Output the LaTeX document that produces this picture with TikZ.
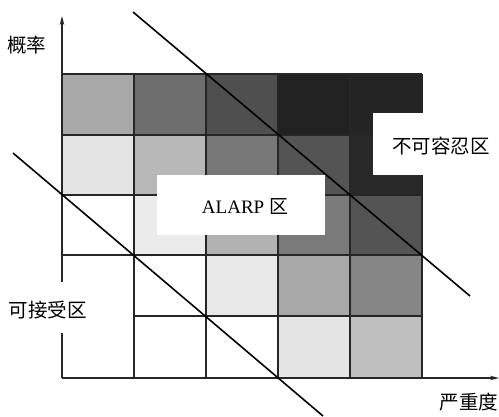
\documentclass[tikz,border=0pt]{standalone}
\usepackage{fontspec}
\setmainfont{Liberation Serif}
\newfontfamily\cjk{Noto Sans CJK SC}
\usetikzlibrary{arrows.meta}
\tikzset{
  gridline/.style={line width=1.3pt, black!85},
  diag/.style={line width=1.6pt, black},
  axis/.style={line width=1.2pt, black!85, -{Stealth[length=9pt,width=4.5pt]}},
  whitebox/.style={fill=white, draw=none, inner sep=0pt},
  lbl/.style={inner sep=0pt, font=\fontsize{19.5}{22}\selectfont\cjk}
}
\begin{document}
\begin{tikzpicture}[x=1pt,y=-1pt]
\useasboundingbox (0,0) rectangle (499,416);
% cell fills: rows top to bottom, columns left to right
\def\xs{{62,134,206,278,350,422}}
\def\ys{{74,135,195,255,316,378}}
\foreach \r/\shades in {0/{34,57,69,87,86},1/{10,28,53,67,84},2/{0,8,30,52,67},3/{0,0,9,34,48},4/{0,0,0,10,25}}{
  \foreach \s [count=\c from 0] in \shades {
    \pgfmathsetmacro{\xa}{\xs[\c]}
    \pgfmathsetmacro{\xb}{\xs[\c+1]}
    \pgfmathsetmacro{\ya}{\ys[\r]}
    \pgfmathsetmacro{\yb}{\ys[\r+1]}
    \fill[black!\s] (\xa,\ya) rectangle (\xb,\yb);
  }
}
% grid lines
\foreach \y in {74,135,195,255} \draw[gridline] (62,\y) -- (422,\y);
\draw[gridline] (134,316) -- (422,316);
\foreach \x in {134,206,278,350,422} \draw[gridline] (\x,74) -- (\x,378);
% axes
\coordinate (O) at (62,378);
\coordinate (ytip) at (62,16);
\coordinate (xtip) at (499,378);
\draw[axis] (O) -- (ytip);
\draw[axis] (O) -- (xtip);
% white label boxes
\node[whitebox, minimum width=168pt, minimum height=60pt] (alarpbox) at (241,205) {};
\node[whitebox, minimum width=126pt, minimum height=62pt] (intolbox) at (436,144) {};
\node[whitebox, minimum width=90pt, minimum height=51pt] (acceptbox) at (48,307.5) {};
\node[inner sep=0pt, font=\fontsize{19}{22}\selectfont] (alarp) at (245,207) {ALARP {\cjk 区}};
\node[lbl] (intol) at (441,146) {不可容忍区};
\node[lbl] (accept) at (48,310) {可接受区};
% axis labels
\node[lbl] (prob) at (27,45) {概率};
\node[lbl] (sev) at (469,402) {严重度};
% diagonals
\coordinate (d1a) at (133,12);
\coordinate (d1b) at (470,296);
\coordinate (d2a) at (13,153);
\coordinate (d2b) at (323,416);
\draw[diag] (d1a) -- (d1b);
\draw[diag] (d2a) -- (d2b);
\end{tikzpicture}
\end{document}
